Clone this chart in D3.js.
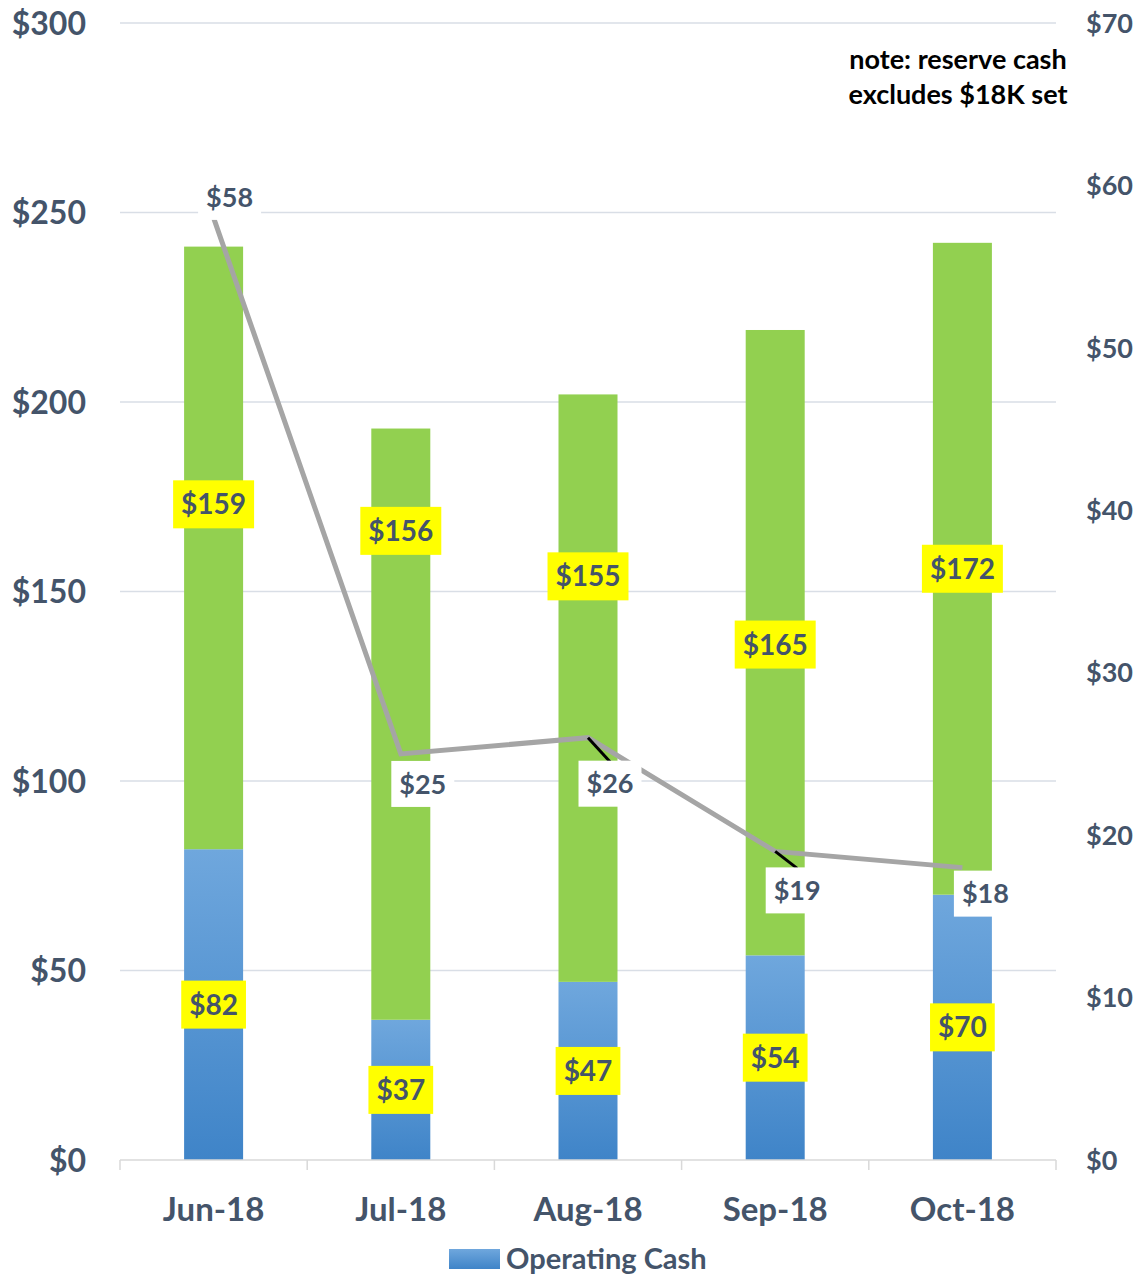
<!DOCTYPE html>
<html>
<head>
<meta charset="utf-8">
<script src="https://cdn.jsdelivr.net/npm/d3@7"></script>
<style>
    body { margin: 0; background: #fff; }
    text { font-family: Lato, "Open Sans", sans-serif; font-weight: bold; }
</style>
</head>
<body>
<script>
    // values in $K
    var months = ["Jun-18", "Jul-18", "Aug-18", "Sep-18", "Oct-18"];
    var operating = [82, 37, 47, 54, 70];
    var other = [159, 156, 155, 165, 172];
    var reserve = [58, 25, 26, 19, 18];
    var leftTicks = [0, 50, 100, 150, 200, 250, 300];
    var rightTicks = [0, 10, 20, 30, 40, 50, 60, 70];
    // green labels were dragged around in the original, value where each one sits
    var otherLabelAt = [173, 166, 154, 136, 156];
    // reserve labels offset from their points (px)
    var reserveLabelShift = [[16, -21], [22, 30], [22, 46], [22, 39], [23, 26]];

    var w = 1140, h = 1276;
    var plotL = 120, plotR = 1056, plotT = 23, plotB = 1160;
    var txt = "#44546A";

    var svg = d3.select("body").append("svg")
        .attr("width", w)
        .attr("height", h);

    var grad = svg.append("defs").append("linearGradient")
        .attr("id", "blue")
        .attr("x1", 0).attr("y1", 0).attr("x2", 0).attr("y2", 1);
    grad.append("stop").attr("offset", "0%").attr("stop-color", "#6FA7DD");
    grad.append("stop").attr("offset", "100%").attr("stop-color", "#3F84C8");

    var x = d3.scaleBand().domain(months).range([plotL, plotR]);
    var barW = 59;
    var y = d3.scaleLinear().domain([0, 300]).range([plotB, plotT]);
    var y2 = d3.scaleLinear().domain([0, 70]).range([plotB, plotT]);
    var cx = function(i) { return x(months[i]) + x.bandwidth() / 2; };

    // gridlines
    svg.append("g").selectAll("line")
        .data(leftTicks.slice(1))
        .enter().append("line")
        .attr("x1", plotL).attr("x2", plotR)
        .attr("y1", function(d) { return y(d); })
        .attr("y2", function(d) { return y(d); })
        .attr("stroke", "#D9DEE6")
        .attr("stroke-width", 1.5);

    // left axis labels
    svg.append("g").selectAll("text")
        .data(leftTicks)
        .enter().append("text")
        .attr("x", 86)
        .attr("y", function(d) { return y(d); })
        .attr("dy", "0.36em")
        .attr("text-anchor", "end")
        .attr("font-size", "32px")
        .attr("fill", txt)
        .text(function(d) { return "$" + d; });

    // right axis labels
    svg.append("g").selectAll("text")
        .data(rightTicks)
        .enter().append("text")
        .attr("x", 1086)
        .attr("y", function(d) { return y2(d); })
        .attr("dy", "0.36em")
        .attr("font-size", "27px")
        .attr("fill", txt)
        .text(function(d) { return "$" + d; });

    // bars
    var bars = svg.append("g");
    bars.selectAll("rect.op")
        .data(operating)
        .enter().append("rect")
        .attr("class", "op")
        .attr("x", function(d, i) { return cx(i) - barW / 2; })
        .attr("y", function(d) { return y(d); })
        .attr("width", barW)
        .attr("height", function(d) { return plotB - y(d); })
        .attr("fill", "url(#blue)");
    bars.selectAll("rect.ot")
        .data(other)
        .enter().append("rect")
        .attr("class", "ot")
        .attr("x", function(d, i) { return cx(i) - barW / 2; })
        .attr("y", function(d, i) { return y(operating[i] + d); })
        .attr("width", barW)
        .attr("height", function(d) { return plotB - y(d); })
        .attr("fill", "#92D050");

    // bottom axis
    var ax = svg.append("g");
    ax.append("line")
        .attr("x1", plotL).attr("x2", plotR)
        .attr("y1", plotB).attr("y2", plotB)
        .attr("stroke", "#D9D9D9").attr("stroke-width", 1.5);
    ax.selectAll("line.tick")
        .data(d3.range(months.length + 1))
        .enter().append("line")
        .attr("class", "tick")
        .attr("x1", function(d) { return plotL + d * x.bandwidth(); })
        .attr("x2", function(d) { return plotL + d * x.bandwidth(); })
        .attr("y1", plotB).attr("y2", plotB + 10)
        .attr("stroke", "#D9D9D9").attr("stroke-width", 1.5);
    ax.selectAll("text")
        .data(months)
        .enter().append("text")
        .attr("x", function(d, i) { return cx(i); })
        .attr("y", 1221)
        .attr("text-anchor", "middle")
        .attr("font-size", "33px")
        .attr("fill", txt)
        .text(function(d) { return d; });

    // yellow value labels
    function yellowLabel(px, py, s) {
        var g = svg.append("g");
        var r = g.append("rect").attr("fill", "#FFFF00");
        var t = g.append("text")
            .attr("x", px).attr("y", py)
            .attr("dy", "0.36em")
            .attr("text-anchor", "middle")
            .attr("font-size", "28px")
            .attr("fill", txt)
            .text(s);
        var bb = t.node().getBBox();
        r.attr("x", bb.x - 8).attr("y", py - 24)
            .attr("width", bb.width + 16).attr("height", 48);
    }
    operating.forEach(function(d, i) {
        yellowLabel(cx(i), y(d / 2), "$" + d);
    });
    other.forEach(function(d, i) {
        yellowLabel(cx(i), y(otherLabelAt[i]), "$" + d);
    });

    // reserve cash line
    var line = d3.line()
        .x(function(d, i) { return cx(i); })
        .y(function(d) { return y2(d); });
    svg.append("path")
        .datum(reserve)
        .attr("d", line)
        .attr("fill", "none")
        .attr("stroke", "#A5A5A5")
        .attr("stroke-width", 5);

    // line labels with leader lines
    reserve.forEach(function(d, i) {
        var px = cx(i), py = y2(d);
        var lx = px + reserveLabelShift[i][0], ly = py + reserveLabelShift[i][1];
        var g = svg.append("g");
        var lead = g.append("line");
        var r = g.append("rect").attr("fill", "#fff");
        var t = g.append("text")
            .attr("x", lx).attr("y", ly)
            .attr("dy", "0.36em")
            .attr("text-anchor", "middle")
            .attr("font-size", "27px")
            .attr("fill", txt)
            .text("$" + d);
        var bb = t.node().getBBox();
        var bx = bb.x - 8, by = ly - 23, bw = bb.width + 16, bh = 46;
        r.attr("x", bx).attr("y", by).attr("width", bw).attr("height", bh);
        if (by - py > 12) {
            lead.attr("x1", px).attr("y1", py)
                .attr("x2", lx).attr("y2", by + 1)
                .attr("stroke", "#000").attr("stroke-width", 3);
        }
    });

    // note
    var note = svg.append("text")
        .attr("x", 958).attr("y", 69)
        .attr("text-anchor", "middle")
        .attr("font-size", "27px")
        .attr("fill", "#000");
    note.append("tspan").attr("x", 958).text("note: reserve cash");
    note.append("tspan").attr("x", 958).attr("dy", 35).text("excludes $18K set");

    // legend
    var leg = svg.append("g");
    leg.append("rect")
        .attr("x", 449).attr("y", 1249)
        .attr("width", 51).attr("height", 20)
        .attr("fill", "url(#blue)");
    leg.append("text")
        .attr("x", 506).attr("y", 1269)
        .attr("font-size", "29px")
        .attr("fill", txt)
        .text("Operating Cash");
</script>
</body>
</html>
